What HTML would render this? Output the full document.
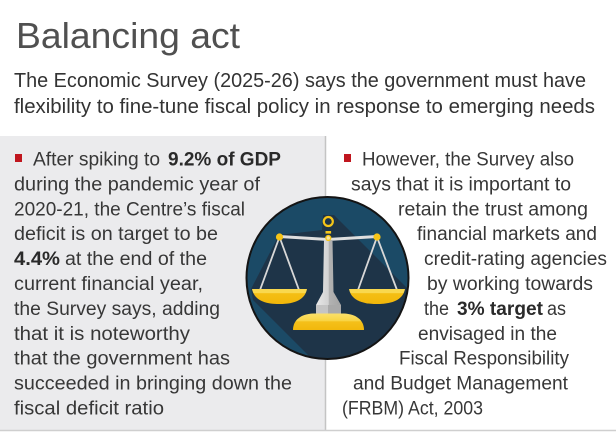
<!DOCTYPE html>
<html><head><meta charset="utf-8">
<style>
html,body{margin:0;padding:0;background:#fff;width:616px;height:433px;overflow:hidden;}
svg{display:block;}
text{font-family:"Liberation Sans",sans-serif;fill:#373737;}
.b{font-size:19px;}
.bd{font-size:19px;font-weight:bold;fill:#2a2a2a;}
</style></head>
<body>
<svg width="616" height="433" viewBox="0 0 616 433" xmlns="http://www.w3.org/2000/svg" overflow="hidden">
<defs>
<clipPath id="cc"><circle cx="327.5" cy="278" r="81"/></clipPath>
<linearGradient id="pil" x1="0" y1="0" x2="1" y2="0">
<stop offset="0" stop-color="#e8e8e8"/><stop offset="0.5" stop-color="#d2d2d2"/><stop offset="0.52" stop-color="#b3b3b3"/><stop offset="1" stop-color="#a4a4a4"/>
</linearGradient>
<linearGradient id="pan" x1="0" y1="0" x2="0" y2="1">
<stop offset="0" stop-color="#f9d84e"/><stop offset="0.25" stop-color="#f9d84e"/><stop offset="0.3" stop-color="#f4bf14"/><stop offset="1" stop-color="#f2b70a"/>
</linearGradient>
<linearGradient id="bas" x1="0" y1="0" x2="0" y2="1">
<stop offset="0" stop-color="#fbe06a"/><stop offset="0.45" stop-color="#f8d444"/><stop offset="0.5" stop-color="#f4c01a"/><stop offset="1" stop-color="#f2b80c"/>
</linearGradient>
</defs>

<rect x="0" y="0" width="616" height="433" fill="#fff"/>
<!-- title -->
<text x="16" y="48" style="font-size:36px;fill:#505050" textLength="224" lengthAdjust="spacingAndGlyphs">Balancing act</text>
<text x="14" y="87" style="font-size:20px;fill:#333" textLength="572" lengthAdjust="spacingAndGlyphs">The Economic Survey (2025-26) says the government must have</text>
<text x="14" y="113" style="font-size:20px;fill:#333" textLength="581" lengthAdjust="spacingAndGlyphs">flexibility to fine-tune fiscal policy in response to emerging needs</text>

<!-- panel -->
<rect x="0" y="136" width="325" height="294" fill="#ebebed"/>
<line x1="325.5" y1="136" x2="325.5" y2="430" stroke="#c4c4c4" stroke-width="1.5"/>
<line x1="0" y1="430.5" x2="616" y2="430.5" stroke="#cfcfcf" stroke-width="1.5"/>

<!-- left column -->
<rect x="15" y="154" width="7" height="8" fill="#c0161e"/>
<text class="b" x="33" y="165.5" textLength="127" lengthAdjust="spacingAndGlyphs">After spiking to</text>
<text class="bd" x="168" y="165.5" textLength="113" lengthAdjust="spacingAndGlyphs">9.2% of GDP</text>
<text class="b" x="14" y="190.4" textLength="246" lengthAdjust="spacingAndGlyphs">during the pandemic year of</text>
<text class="b" x="14" y="215.3" textLength="231" lengthAdjust="spacingAndGlyphs">2020-21, the Centre’s fiscal</text>
<text class="b" x="14" y="240.2" textLength="204" lengthAdjust="spacingAndGlyphs">deficit is on target to be</text>
<text class="bd" x="14" y="265.1" textLength="46" lengthAdjust="spacingAndGlyphs">4.4%</text>
<text class="b" x="65" y="265.1" textLength="142" lengthAdjust="spacingAndGlyphs">at the end of the</text>
<text class="b" x="14" y="290" textLength="189" lengthAdjust="spacingAndGlyphs">current financial year,</text>
<text class="b" x="14" y="314.9" textLength="206" lengthAdjust="spacingAndGlyphs">the Survey says, adding</text>
<text class="b" x="14" y="339.8" textLength="176" lengthAdjust="spacingAndGlyphs">that it is noteworthy</text>
<text class="b" x="14" y="364.7" textLength="216" lengthAdjust="spacingAndGlyphs">that the government has</text>
<text class="b" x="14" y="389.6" textLength="278" lengthAdjust="spacingAndGlyphs">succeeded in bringing down the</text>
<text class="b" x="14" y="414.5" textLength="150" lengthAdjust="spacingAndGlyphs">fiscal deficit ratio</text>

<!-- right column -->
<rect x="344" y="154" width="7" height="8" fill="#c0161e"/>
<text class="b" x="362" y="165.5" textLength="212" lengthAdjust="spacingAndGlyphs">However, the Survey also</text>
<text class="b" x="351" y="190.4" textLength="220" lengthAdjust="spacingAndGlyphs">says that it is important to</text>
<text class="b" x="398" y="215.3" textLength="190" lengthAdjust="spacingAndGlyphs">retain the trust among</text>
<text class="b" x="417" y="240.2" textLength="180" lengthAdjust="spacingAndGlyphs">financial markets and</text>
<text class="b" x="424" y="265.1" textLength="183" lengthAdjust="spacingAndGlyphs">credit-rating agencies</text>
<text class="b" x="427" y="290" textLength="166" lengthAdjust="spacingAndGlyphs">by working towards</text>
<text class="b" x="424" y="314.9" textLength="25" lengthAdjust="spacingAndGlyphs">the</text>
<text class="bd" x="457" y="314.9" textLength="86" lengthAdjust="spacingAndGlyphs">3% target</text>
<text class="b" x="547" y="314.9" textLength="19" lengthAdjust="spacingAndGlyphs">as</text>
<text class="b" x="418" y="339.8" textLength="139" lengthAdjust="spacingAndGlyphs">envisaged in the</text>
<text class="b" x="399" y="364.7" textLength="170" lengthAdjust="spacingAndGlyphs">Fiscal Responsibility</text>
<text class="b" x="353" y="389.6" textLength="215" lengthAdjust="spacingAndGlyphs">and Budget Management</text>
<text class="b" x="342" y="414.5" textLength="141" lengthAdjust="spacingAndGlyphs">(FRBM) Act, 2003</text>

<!-- icon -->
<circle cx="327.5" cy="278" r="81" fill="#1b4a66"/>
<g clip-path="url(#cc)">
<polygon points="323,215 334,215 540,421 374,421 253,300 251,289 279,235 322,230" fill="#1e3448"/>
</g>
<circle cx="327.5" cy="278" r="81" fill="none" stroke="#141414" stroke-width="2"/>

<!-- strings -->
<g stroke="#d8d8d8" stroke-width="1.8" fill="none">
<line x1="279.5" y1="237" x2="260" y2="290"/>
<line x1="279.5" y1="237" x2="299" y2="290"/>
<line x1="377" y1="237" x2="358" y2="290"/>
<line x1="377" y1="237" x2="397" y2="290"/>
</g>
<!-- beam -->
<polyline points="279.5,236.5 328,239.5 377,236.5" fill="none" stroke="#dedede" stroke-width="3"/>
<!-- pillar -->
<polygon points="324,240 332.5,240 333.5,292 341,305 341,314 316,314 316,305 323,292" fill="url(#pil)"/>
<rect x="316" y="305" width="25" height="9" fill="#a9a9a9"/>
<rect x="316" y="305" width="12" height="9" fill="#c4c4c4"/>
<!-- base -->
<path d="M293,330 L364,330 C364,320 356,314 344,313.5 L313,313.5 C301,314 293,320 293,330 Z" fill="url(#bas)"/>
<!-- pans -->
<path d="M252,289 H307 C305,299 296,304 279.5,304 C263,304 254,299 252,289 Z" fill="url(#pan)"/>
<path d="M349,289 H405 C403,299 394,304 377,304 C360,304 351,299 349,289 Z" fill="url(#pan)"/>
<!-- dots and ring -->
<circle cx="279.5" cy="237" r="3.6" fill="#f5c518"/>
<circle cx="377" cy="237" r="3.6" fill="#f5c518"/>
<circle cx="328.3" cy="221.5" r="4.5" fill="none" stroke="#f5c518" stroke-width="2.2"/>
<rect x="325.5" y="231" width="5.6" height="2.6" fill="#f5c518"/>
<circle cx="328.3" cy="238" r="2.4" fill="#f7e3a0" stroke="#f5c518" stroke-width="1.4"/>
</svg>
</body></html>
